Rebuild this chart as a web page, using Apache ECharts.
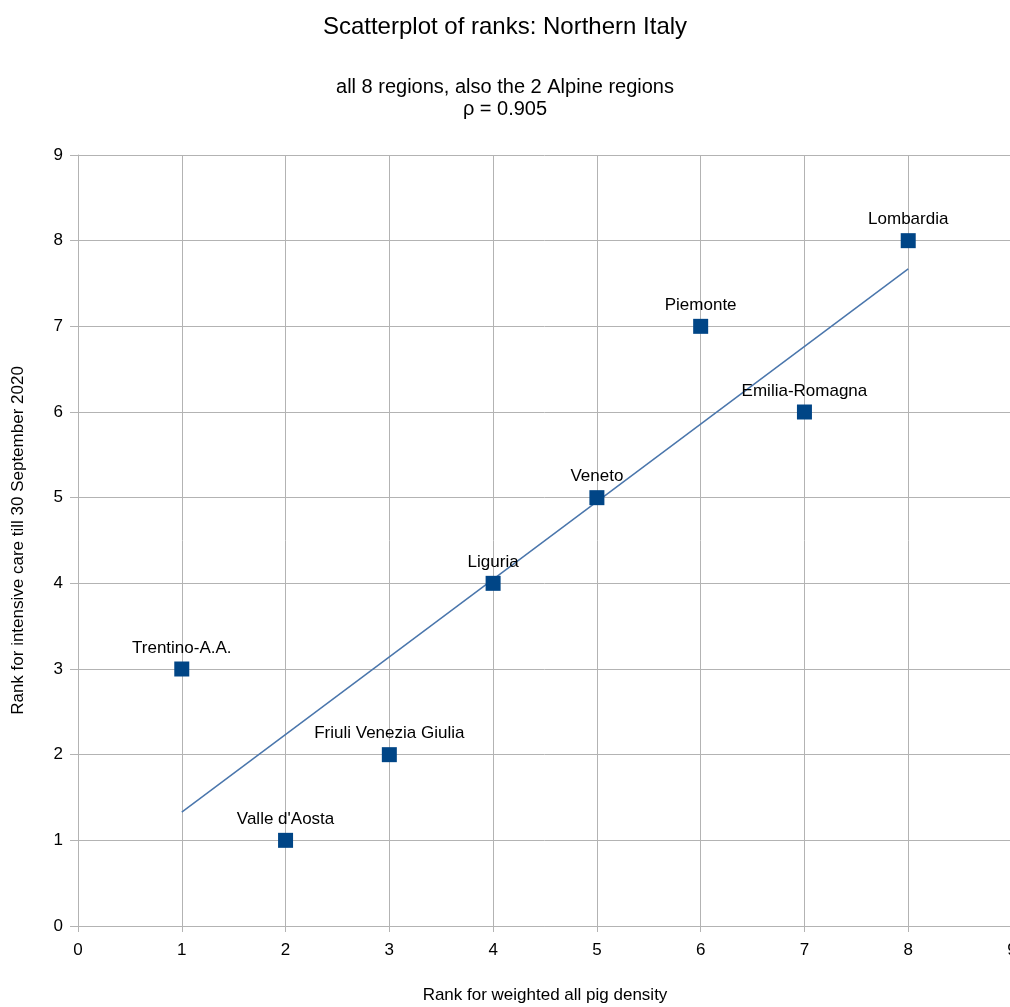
<!DOCTYPE html>
<html>
<head>
<meta charset="utf-8">
<script src="https://cdn.jsdelivr.net/npm/echarts@6/dist/echarts.min.js"></script>
<style>
    html, body { margin: 0; padding: 0; background: #fff; }
    #chart { width: 1010px; height: 1007px; }
</style>
</head>
<body>
<div id="chart"></div>
<script>
// MARK: - Data
const regionNames = ['Trentino-A.A.', "Valle d'Aosta", 'Friuli Venezia Giulia', 'Liguria', 'Veneto', 'Piemonte', 'Emilia-Romagna', 'Lombardia'];
const pigDensityRank = [1, 2, 3, 4, 5, 6, 7, 8];
const intensiveCareRank = [3, 1, 2, 4, 5, 7, 6, 8];
// trend line end points
const trendX = [1, 8];
const trendY = [1.33, 7.67];

const gridColor = '#b3b3b3';
const font = '"Liberation Sans", Arial, sans-serif';

let points = regionNames.map((name, i) => ({
    name: name,
    value: [pigDensityRank[i], intensiveCareRank[i]]
}));
let trend = trendX.map((x, i) => [x, trendY[i]]);

let chart = echarts.init(document.getElementById('chart'), null, { renderer: 'canvas' });

let titleStyle = (size) => ({ fontFamily: font, fontSize: size, fontWeight: 'normal', color: '#000' });

let option = {
    backgroundColor: '#ffffff',
    animation: false,
    textStyle: { fontFamily: font },
    title: [
        { text: 'Scatterplot of ranks: Northern Italy', left: 'center', top: 10, textStyle: titleStyle(24) },
        { text: 'all 8 regions, also the 2 Alpine regions', left: 'center', top: 72, textStyle: titleStyle(20) },
        { text: 'ρ = 0.905', left: 'center', top: 94, textStyle: titleStyle(20) }
    ],
    grid: {
        left: 78,
        width: 934,
        top: 155,
        bottom: 81,
        outerBoundsMode: 'none',
        containLabel: false
    },
    xAxis: {
        type: 'value',
        min: 0,
        max: 9,
        interval: 1,
        name: 'Rank for weighted all pig density',
        nameLocation: 'middle',
        nameGap: 61,
        nameTextStyle: { fontFamily: font, fontSize: 17, color: '#000' },
        axisLine: { show: true, lineStyle: { color: gridColor, width: 1 } },
        axisTick: { show: true, length: 6, lineStyle: { color: gridColor } },
        axisLabel: { fontFamily: font, fontSize: 17, color: '#000', margin: 16 },
        splitLine: { show: true, lineStyle: { color: gridColor, width: 1 } }
    },
    yAxis: {
        type: 'value',
        min: 0,
        max: 9,
        interval: 1,
        name: 'Rank for intensive care till 30 September 2020',
        nameLocation: 'middle',
        nameGap: 51,
        nameTextStyle: { fontFamily: font, fontSize: 17, color: '#000' },
        axisLine: { show: true, lineStyle: { color: gridColor, width: 1 } },
        axisTick: { show: true, length: 8, lineStyle: { color: gridColor } },
        axisLabel: { fontFamily: font, fontSize: 17, color: '#000', margin: 15 },
        splitLine: { show: true, lineStyle: { color: gridColor, width: 1 } }
    },
    series: [
        {
            name: 'trend',
            type: 'line',
            data: trend,
            symbol: 'none',
            lineStyle: { color: '#4a76ac', width: 1.5 },
            silent: true,
            z: 2
        },
        {
            name: 'regions',
            type: 'scatter',
            data: points,
            symbol: 'rect',
            symbolSize: 15,
            itemStyle: { color: '#004586', opacity: 1 },
            label: {
                show: true,
                position: 'top',
                distance: 5,
                formatter: params => params.name,
                fontFamily: font,
                fontSize: 17,
                color: '#000'
            },
            z: 3
        }
    ]
};

option && chart.setOption(option);
</script>
</body>
</html>
